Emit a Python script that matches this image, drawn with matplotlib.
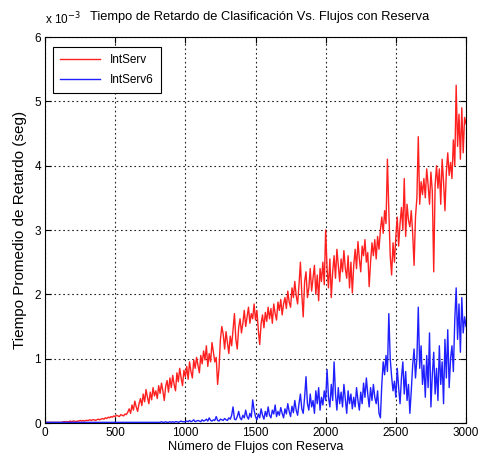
import matplotlib
matplotlib.use("Agg")
import matplotlib.pyplot as plt
import numpy as np

plt.rcParams['font.family'] = ['Liberation Sans', 'DejaVu Sans']

# Number of reserved flows (step 10)
flows = list(range(0, 3001, 10))

# Delay values in units of 1e-3 s
intserv = [
    0.01,0.01,0.01,0.01,0.01,0.01,0.01,0.01,0.01,0.01,
    0.01,0.01,0.01,0.02,0.02,0.02,0.02,0.02,0.03,0.02,
    0.03,0.03,0.02,0.03,0.03,0.04,0.03,0.04,0.03,0.04,
    0.04,0.04,0.05,0.04,0.05,0.05,0.04,0.05,0.06,0.05,
    0.06,0.07,0.06,0.08,0.07,0.09,0.08,0.10,0.09,0.11,
    0.10,0.12,0.11,0.10,0.13,0.12,0.11,0.14,0.13,0.17,
    0.22,0.15,0.28,0.20,0.34,0.25,0.18,0.30,0.38,0.27,
    0.45,0.33,0.52,0.40,0.30,0.48,0.36,0.55,0.42,0.50,
    0.38,0.58,0.46,0.62,0.50,0.35,0.57,0.66,0.48,0.70,
    0.55,0.74,0.60,0.50,0.78,0.64,0.85,0.70,0.58,0.82,
    0.72,0.88,0.68,0.95,0.80,0.70,0.98,0.85,1.02,0.90,
    0.78,1.05,0.92,1.12,0.98,1.20,0.88,1.08,0.95,1.25,
    1.10,0.95,1.02,0.60,0.85,1.30,1.50,1.38,1.15,1.42,
    1.25,1.08,1.35,1.20,1.45,1.70,1.30,1.15,1.48,1.62,
    1.40,1.55,1.75,1.50,1.65,1.80,1.55,1.70,1.62,1.85,
    1.60,1.75,1.45,1.22,1.55,1.68,1.48,1.72,1.58,1.80,
    1.62,1.78,1.55,1.85,1.70,1.60,1.88,1.75,1.92,1.68,
    1.85,1.95,1.78,2.05,1.88,1.80,2.10,1.95,2.20,1.98,
    1.85,2.15,2.50,2.00,1.65,2.20,2.35,1.95,2.10,2.40,
    2.05,2.25,2.45,2.00,2.30,1.90,2.40,2.20,2.50,2.15,
    3.00,2.40,2.10,2.55,1.95,2.35,2.60,2.25,2.70,2.45,
    2.20,2.55,2.35,2.68,2.40,2.25,2.60,2.10,2.50,2.02,
    2.45,2.70,2.40,2.82,2.55,2.35,2.75,2.60,2.85,2.50,
    2.65,2.12,2.50,2.80,2.60,2.85,2.55,2.90,2.70,3.00,
    3.20,2.95,3.30,3.10,4.10,3.30,2.60,2.30,2.80,2.50,
    2.90,3.20,2.75,3.10,3.35,3.00,3.80,2.90,3.40,3.15,
    3.05,3.30,2.95,2.45,3.20,3.50,4.45,3.40,3.75,3.55,
    3.80,3.50,3.95,3.70,3.40,3.90,3.60,2.35,3.70,4.00,
    3.65,3.95,3.40,4.10,3.75,3.30,3.90,4.20,3.85,4.05,
    3.80,4.40,4.00,5.25,4.30,4.80,4.10,4.90,4.20,4.75,
    4.65,
]

intserv6 = [
    0.01,0.01,0.01,0.01,0.01,0.01,0.01,0.01,0.01,0.01,
    0.01,0.01,0.01,0.01,0.01,0.01,0.01,0.01,0.01,0.01,
    0.01,0.01,0.01,0.01,0.01,0.01,0.01,0.01,0.01,0.01,
    0.01,0.01,0.01,0.01,0.01,0.01,0.01,0.01,0.01,0.01,
    0.01,0.01,0.01,0.01,0.01,0.01,0.01,0.01,0.01,0.01,
    0.01,0.01,0.01,0.01,0.01,0.01,0.01,0.01,0.01,0.01,
    0.01,0.01,0.01,0.01,0.01,0.01,0.01,0.01,0.01,0.01,
    0.01,0.01,0.01,0.01,0.01,0.01,0.01,0.01,0.01,0.01,
    0.01,0.01,0.01,0.02,0.01,0.01,0.02,0.01,0.01,0.02,
    0.01,0.02,0.01,0.02,0.02,0.01,0.02,0.03,0.02,0.02,
    0.02,0.03,0.02,0.04,0.02,0.03,0.05,0.02,0.03,0.04,
    0.03,0.02,0.05,0.03,0.04,0.06,0.03,0.08,0.04,0.03,
    0.05,0.04,0.10,0.04,0.03,0.06,0.05,0.04,0.07,0.05,
    0.04,0.08,0.06,0.12,0.25,0.06,0.05,0.10,0.18,0.08,
    0.05,0.12,0.08,0.20,0.10,0.06,0.15,0.09,0.36,0.20,
    0.10,0.05,0.14,0.08,0.22,0.12,0.06,0.18,0.10,0.25,
    0.12,0.08,0.20,0.14,0.28,0.10,0.18,0.12,0.24,0.15,
    0.08,0.22,0.14,0.30,0.18,0.10,0.26,0.16,0.35,0.20,
    0.12,0.30,0.45,0.22,0.15,0.40,0.72,0.30,0.20,0.45,
    0.25,0.35,0.15,0.50,0.30,0.55,0.20,0.40,0.28,0.50,
    0.35,0.83,0.40,0.25,0.60,0.35,0.95,0.45,0.20,0.55,
    0.30,0.48,0.25,0.60,0.38,0.15,0.50,0.30,0.45,0.22,
    0.40,0.25,0.55,0.35,0.20,0.48,0.30,0.62,0.40,0.70,
    0.45,0.25,0.55,0.35,0.60,0.40,0.30,0.50,0.15,0.08,
    0.60,0.95,0.75,1.05,0.80,1.70,1.00,0.72,0.50,0.65,
    0.40,0.85,0.55,0.30,0.70,0.95,0.45,0.80,0.35,0.60,
    0.15,0.50,0.90,1.15,0.70,1.00,1.80,0.85,1.20,0.60,
    0.90,0.40,1.05,0.55,1.40,0.25,0.75,1.10,0.45,0.85,
    0.35,1.20,0.60,0.95,0.30,1.30,0.70,1.45,0.55,1.00,
    1.20,0.80,1.60,2.10,1.30,1.85,1.10,1.95,1.40,1.65,
    1.50,
]

series_labels = ["IntServ", "IntServ6"]
x_ticks = [0, 500, 1000, 1500, 2000, 2500, 3000]
y_ticks = [0, 1, 2, 3, 4, 5, 6]

fig = plt.figure(figsize=(4.80, 4.61), dpi=100)
ax = fig.add_axes([45/480, (461-423)/461, 421/480, 386/461])

ax.plot(flows, intserv, color='#ff2020', lw=1.0, label=series_labels[0])
ax.plot(flows, intserv6, color='#2020ff', lw=1.0, label=series_labels[1])

ax.set_xlim(0, 3000)
ax.set_ylim(0, 6)
ax.set_xticks(x_ticks)
ax.set_yticks(y_ticks)
ax.tick_params(direction='in', length=4, width=0.8, top=True, right=True,
               labelsize=8.5, pad=3)
ax.grid(True, color='#222222', linestyle=(0, (1.5, 2.5)), linewidth=0.8)
for s in ax.spines.values():
    s.set_linewidth(0.8)
    s.set_color('black')

ax.set_title("Tiempo de Retardo de Clasificación Vs. Flujos con Reserva",
             fontsize=9.3, pad=12, x=0.51)
ax.set_xlabel("Número de Flujos con Reserva", fontsize=9.2, labelpad=1)
ax.set_ylabel("Tiempo Promedio de Retardo (seg)", fontsize=11, labelpad=5)
ax.text(0.0, 1.025, "x 10$^{-3}$", transform=ax.transAxes, fontsize=8.5,
        ha='left', va='bottom')

leg = ax.legend(loc='upper left', bbox_to_anchor=(0.005, 0.99), fontsize=8.5,
                fancybox=False, framealpha=1, edgecolor='black',
                handlelength=3.4, borderpad=0.6, labelspacing=0.7)
leg.get_frame().set_linewidth(0.8)

fig.savefig("out.png", dpi=100, facecolor='white')
